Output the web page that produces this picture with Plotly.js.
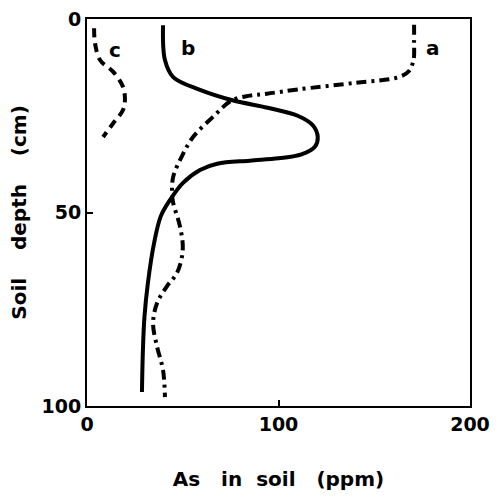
<!DOCTYPE html>
<html><head><meta charset="utf-8">
<script src="https://cdn.plot.ly/plotly-3.0.1.min.js"></script>
<style>html,body{margin:0;padding:0;background:#fff;}#chart{width:499px;height:502px;}</style>
</head><body><div id="chart"></div>
<script>
// Curve a (dash-dot)
const aAs    = [170.8, 170.8, 170.5, 168, 163, 140, 110, 94, 85, 75.7, 65.8, 55.4, 49.4, 45, 44.4, 45, 48.6, 50, 47, 41.8, 36.6, 34.5, 36.6, 39.7, 40.7];
const aDepth = [1.5, 6, 10.6, 13.5, 15, 16.5, 18.2, 19.3, 19.8, 21, 25.3, 30.5, 35.6, 40.8, 45, 47.5, 53.7, 59.7, 65.6, 69, 73.4, 78.6, 84.7, 90.7, 97.7];
// Curve b (solid)
const bAs    = [39.7, 40.7, 45, 59, 76, 95, 110, 118, 120.5, 119, 112, 100, 85, 68, 59, 50, 43.3, 38.5, 35, 31.8, 30, 29.2, 28.7];
const bDepth = [1.6, 10.6, 15, 18.3, 21, 23, 25, 27.5, 30.5, 33, 35, 36, 36.6, 37.4, 39, 42.4, 46.8, 51, 58, 68.2, 77, 85.5, 96.4];
// Curve c (dashed)
const cAs    = [3.7, 4.2, 6.8, 13.6, 18.8, 19.8, 18.8, 13.6, 8.4];
const cDepth = [2.4, 6.3, 10.6, 13.6, 17.5, 21, 23.5, 27, 30.5];
// Curve labels
const labelText  = ['a', 'b', 'c'];
const labelAs    = [180.7, 52.7, 14.6];
const labelDepth = [7.5, 7.5, 8];
const xTicks = [0, 100, 200];
const yTicks = [0, 50, 100];

const FONT = 'DejaVu Sans, sans-serif';
const lineStyle = (dash) => ({color: '#000', width: 4, shape: 'spline', smoothing: 1, dash: dash});

const traces = [
  {x: aAs, y: aDepth, mode: 'lines', line: lineStyle('10px,5px,3px,5px'), name: 'a', hoverinfo: 'skip'},
  {x: bAs, y: bDepth, mode: 'lines', line: lineStyle('solid'), name: 'b', hoverinfo: 'skip'},
  {x: cAs, y: cDepth, mode: 'lines', line: lineStyle('9px,6px'), name: 'c', hoverinfo: 'skip'}
];

const annotations = labelText.map((t, i) => ({
  x: labelAs[i], y: labelDepth[i], xref: 'x', yref: 'y', text: t, showarrow: false,
  font: {family: FONT, size: 20, color: '#000', weight: 'bold'}
}));

const layout = {
  width: 499, height: 502,
  margin: {l: 87, r: 29, t: 19, b: 96},
  paper_bgcolor: '#fff', plot_bgcolor: '#fff',
  showlegend: false,
  font: {family: FONT, color: '#000'},
  xaxis: {
    range: [0, 200], tickvals: xTicks, ticktext: xTicks.map(String),
    showgrid: false, zeroline: false, showline: true, mirror: true,
    linecolor: '#000', linewidth: 2, ticks: 'inside', ticklen: 6, tickwidth: 2, tickcolor: '#000',
    tickfont: {family: FONT, size: 19, color: '#000', weight: 'bold'},
    title: {text: 'As   in  soil   (ppm)', font: {family: FONT, size: 20, color: '#000', weight: 'bold'}, standoff: 38}
  },
  yaxis: {
    range: [100, 0], tickvals: yTicks, ticktext: yTicks.map(String),
    showgrid: false, zeroline: false, showline: true, mirror: true,
    linecolor: '#000', linewidth: 2, ticks: 'inside', ticklen: 6, tickwidth: 2, tickcolor: '#000',
    tickfont: {family: FONT, size: 19, color: '#000', weight: 'bold'},
    title: {text: 'Soil    depth    (cm)', font: {family: FONT, size: 20, color: '#000', weight: 'bold'}, standoff: 10}
  },
  annotations: annotations
};

Plotly.newPlot('chart', traces, layout, {staticPlot: true, displayModeBar: false});
</script>
</body></html>
